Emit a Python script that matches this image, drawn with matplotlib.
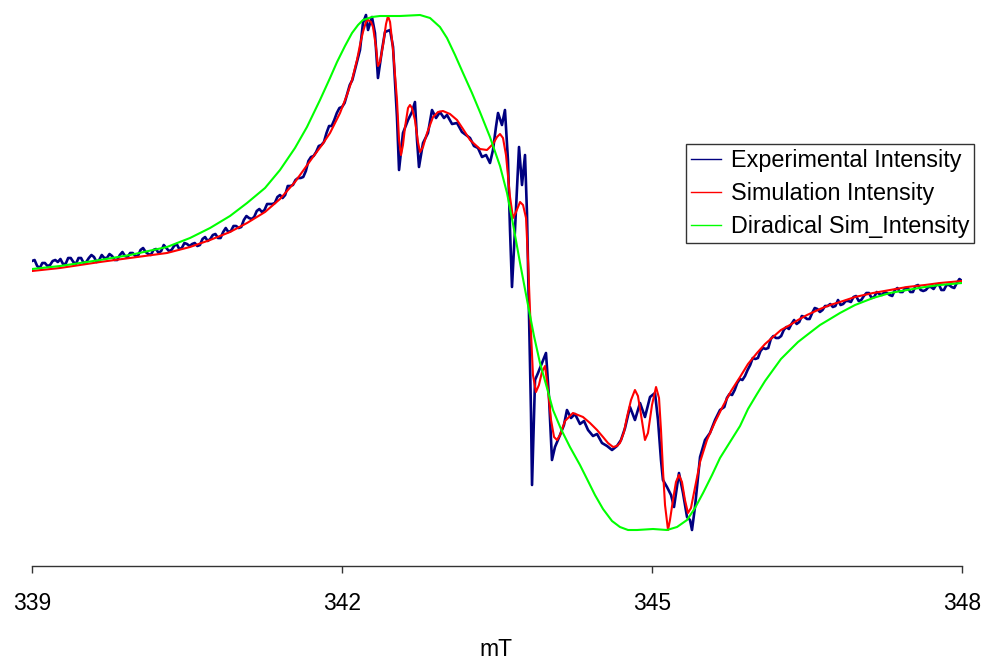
import matplotlib
matplotlib.use("Agg")
import matplotlib.pyplot as plt
from matplotlib.lines import Line2D

plt.rcParams["font.family"] = ["Liberation Sans", "DejaVu Sans"]

# ---- Experimental EPR derivative spectrum (field in mT, intensity in arb. units)
exp_field = [
    339.000, 339.025, 339.050, 339.075, 339.100, 339.125, 339.150, 339.175, 339.200, 339.225,
    339.250, 339.275, 339.300, 339.325, 339.350, 339.375, 339.400, 339.425, 339.450, 339.475,
    339.500, 339.525, 339.550, 339.575, 339.600, 339.625, 339.650, 339.675, 339.700, 339.725,
    339.750, 339.775, 339.800, 339.825, 339.850, 339.875, 339.900, 339.925, 339.950, 339.975,
    340.000, 340.025, 340.050, 340.075, 340.100, 340.125, 340.150, 340.175, 340.200, 340.225,
    340.250, 340.275, 340.300, 340.325, 340.350, 340.375, 340.400, 340.425, 340.450, 340.475,
    340.500, 340.525, 340.550, 340.575, 340.600, 340.625, 340.650, 340.675, 340.700, 340.725,
    340.750, 340.775, 340.800, 340.825, 340.850, 340.875, 340.900, 340.925, 340.950, 340.975,
    341.000, 341.025, 341.050, 341.075, 341.100, 341.125, 341.150, 341.175, 341.200, 341.225,
    341.250, 341.275, 341.300, 341.325, 341.350, 341.375, 341.400, 341.425, 341.450, 341.475,
    341.500, 341.525, 341.550, 341.575, 341.600, 341.625, 341.650, 341.675, 341.700, 341.725,
    341.750, 341.775, 341.800, 341.825, 341.850, 341.875, 341.900, 341.925, 341.950, 341.975,
    342.000, 342.025, 342.050, 342.075, 342.100, 342.125, 342.150,
    342.174, 342.203, 342.232, 342.252, 342.290, 342.319, 342.348, 342.387, 342.416,
    342.465, 342.494, 342.532, 342.552, 342.590, 342.639, 342.677, 342.706, 342.726,
    342.745, 342.784, 342.832, 342.871, 342.910, 342.948, 342.987, 343.016, 343.065,
    343.113, 343.161, 343.200, 343.239, 343.277, 343.316, 343.355, 343.394, 343.432,
    343.461, 343.490, 343.510, 343.548, 343.577, 343.606, 343.626, 343.645, 343.674,
    343.713, 343.742, 343.771, 343.790, 343.810, 343.829, 343.839, 343.868, 343.897,
    343.935, 343.974, 344.003, 344.032, 344.061, 344.110, 344.148, 344.177, 344.216,
    344.255, 344.303, 344.342, 344.381, 344.429, 344.468, 344.516, 344.565, 344.613,
    344.661, 344.700, 344.739, 344.787, 344.835, 344.884, 344.932, 344.981, 345.029,
    345.058, 345.087, 345.106, 345.145, 345.184, 345.213, 345.261, 345.300, 345.339,
    345.368, 345.387, 345.416, 345.465, 345.513, 345.561, 345.610, 345.658,
    345.700, 345.725, 345.750, 345.775, 345.800, 345.825, 345.850, 345.875, 345.900, 345.925,
    345.950, 345.975, 346.000, 346.025, 346.050, 346.075, 346.100, 346.125, 346.150, 346.175,
    346.200, 346.225, 346.250, 346.275, 346.300, 346.325, 346.350, 346.375, 346.400, 346.425,
    346.450, 346.475, 346.500, 346.525, 346.550, 346.575, 346.600, 346.625, 346.650, 346.675,
    346.700, 346.725, 346.750, 346.775, 346.800, 346.825, 346.850, 346.875, 346.900, 346.925,
    346.950, 346.975, 347.000, 347.025, 347.050, 347.075, 347.100, 347.125, 347.150, 347.175,
    347.200, 347.225, 347.250, 347.275, 347.300, 347.325, 347.350, 347.375, 347.400, 347.425,
    347.450, 347.475, 347.500, 347.525, 347.550, 347.575, 347.600, 347.625, 347.650, 347.675,
    347.700, 347.725, 347.750, 347.775, 347.800, 347.825, 347.850, 347.875, 347.900, 347.925,
    347.950, 347.975, 348.000,
]
exp_intensity = [
    24, 25, 19, 17, 22, 22, 19, 20, 24, 25, 23, 26, 21, 21, 27, 27, 23, 21, 27, 27,
    22, 23, 27, 30, 28, 23, 25, 30, 27, 27, 31, 29, 25, 25, 30, 33, 29, 28, 32, 32,
    29, 29, 35, 37, 33, 31, 30, 35, 36, 32, 34, 40, 37, 34, 35, 39, 41, 36, 37, 42,
    41, 39, 41, 42, 39, 40, 46, 48, 44, 46, 50, 51, 47, 47, 53, 57, 53, 54, 59, 59,
    57, 58, 65, 69, 67, 66, 68, 74, 76, 73, 75, 81, 81, 81, 82, 88, 90, 87, 90, 99,
    99, 100, 105, 107, 107, 108, 114, 124, 128, 129, 133, 139, 140, 143, 152, 159, 159, 165, 172, 177,
    178, 182, 191, 200, 205, 215, 225,
    235, 262, 270, 255, 268, 252, 207, 235, 253,
    255, 238, 168, 115, 152, 165, 173, 183, 145,
    118, 142, 152, 175, 167, 173, 167, 170, 161,
    162, 153, 150, 147, 139, 137, 128, 130, 122,
    135, 158, 172, 160, 175, 125, 55, -2, 55,
    138, 100, 130, 72, -28, -128, -200, -95, -88,
    -78, -68, -112, -175, -162, -150, -140, -125, -133,
    -129, -139, -136, -145, -151, -149, -158, -161, -165,
    -161, -155, -143, -122, -135, -118, -132, -112, -108,
    -135, -175, -195, -202, -210, -222, -188, -208, -232,
    -235, -245, -222, -172, -155, -148, -135, -125,
    -122, -113, -109, -110, -105, -98, -94, -95, -91, -85,
    -80, -73, -74, -73, -66, -63, -64, -63, -54, -51,
    -53, -53, -51, -45, -42, -44, -39, -35, -39, -37,
    -31, -32, -34, -34, -28, -23, -24, -27, -25, -21,
    -21, -19, -22, -21, -15, -20, -19, -16, -16, -17,
    -12, -11, -16, -15, -11, -8, -8, -13, -12, -7,
    -9, -10, -7, -8, -10, -11, -5, -3, -7, -7,
    -3, -3, -7, -7, -1, 0, -5, -6, -5, -2,
    -2, -4, 0, 1, -5, -5, 0, 0, -2, -3,
    2, 6, 4,
]

# ---- Simulated spectrum
sim_field = [
    339.000, 339.271, 339.658, 339.948, 340.306, 340.529, 340.723, 340.916, 341.081,
    341.255, 341.400, 341.545, 341.719, 341.806, 341.884, 341.981, 342.048, 342.097,
    342.145, 342.174, 342.203, 342.232, 342.252, 342.281, 342.300, 342.329, 342.348,
    342.368, 342.397, 342.426, 342.445, 342.465, 342.494, 342.513, 342.532, 342.552,
    342.571, 342.590, 342.610, 342.639, 342.658, 342.677, 342.706, 342.735, 342.755,
    342.784, 342.823, 342.881, 342.929, 342.977, 343.045, 343.113, 343.171, 343.239,
    343.335, 343.403, 343.461, 343.500, 343.529, 343.558, 343.587, 343.626, 343.655,
    343.684, 343.723, 343.752, 343.781, 343.800, 343.819, 343.848, 343.877, 343.906,
    343.935, 343.965, 343.994, 344.023, 344.052, 344.081, 344.110, 344.158, 344.235,
    344.332, 344.400, 344.468, 344.526, 344.574, 344.623, 344.661, 344.690, 344.729,
    344.758, 344.797, 344.835, 344.864, 344.894, 344.932, 344.961, 345.000, 345.039,
    345.068, 345.087, 345.106, 345.126, 345.155, 345.174, 345.203, 345.232, 345.261,
    345.290, 345.319, 345.348, 345.377, 345.406, 345.465, 345.532, 345.610, 345.687,
    345.765, 345.852, 345.929, 346.016, 346.094, 346.171, 346.248, 346.335, 346.413,
    346.500, 346.626, 346.723, 346.819, 346.965, 347.139, 347.303, 347.468, 347.642,
    347.787, 348.000,
]
sim_intensity = [
    14, 17, 23, 27, 32, 38, 45, 53, 62,
    73, 86, 103, 128, 140, 152, 172, 190, 205,
    225, 240, 253, 263, 265, 263, 258, 238, 219,
    223, 240, 261, 269, 263, 235, 210, 185, 145,
    130, 140, 158, 177, 180, 177, 165, 143, 133,
    138, 152, 168, 173, 174, 171, 165, 156, 145,
    136, 135, 141, 148, 151, 147, 130, 88, 67,
    73, 83, 80, 67, 25, -25, -90, -107, -100,
    -87, -81, -105, -135, -152, -155, -150, -136, -128,
    -132, -138, -145, -152, -158, -162, -161, -158, -147,
    -132, -115, -105, -111, -130, -155, -148, -120, -102,
    -113, -145, -185, -220, -245, -235, -215, -197, -190,
    -197, -215, -228, -223, -208, -177, -155, -137, -121,
    -106, -92, -79, -68, -59, -52, -45, -40, -35,
    -30, -24, -20, -17, -12, -8, -5, -2, 0,
    2, 4,
]

# ---- Diradical simulation
dir_field = [
    339.000, 339.271, 339.658, 339.948, 340.306, 340.529, 340.723, 340.916, 341.081,
    341.255, 341.400, 341.545, 341.661, 341.787, 341.884, 341.952, 342.029, 342.097,
    342.155, 342.203, 342.290, 342.368, 342.561, 342.755, 342.852, 342.948, 343.016,
    343.094, 343.171, 343.258, 343.335, 343.432, 343.529, 343.597, 343.655, 343.723,
    343.800, 343.858, 343.916, 343.984, 344.042, 344.119, 344.206, 344.303, 344.371,
    344.448, 344.526, 344.613, 344.690, 344.768, 344.855, 345.010, 345.145, 345.242,
    345.339, 345.416, 345.494, 345.581, 345.658, 345.755, 345.852, 345.929, 346.016,
    346.094, 346.171, 346.248, 346.335, 346.413, 346.500, 346.626, 346.723, 346.819,
    346.965, 347.139, 347.303, 347.468, 347.642, 347.787, 348.000,
]
dir_intensity = [
    16, 19, 25, 30, 38, 47, 57, 69, 82,
    97, 115, 137, 158, 185, 207, 223, 239, 252,
    260, 265, 268, 269, 269, 270, 267, 258, 247,
    230, 212, 192, 173, 148, 119, 92, 61, 22,
    -20, -51, -78, -103, -125, -144, -162, -180, -194,
    -210, -224, -236, -242, -245, -245, -244, -245, -242,
    -235, -223, -208, -190, -173, -157, -141, -124, -109,
    -96, -85, -74, -65, -57, -50, -40, -34, -28,
    -20, -13, -8, -5, -2, 0, 2,
]

series_labels = ["Experimental Intensity", "Simulation Intensity", "Diradical Sim_Intensity"]
series_colors = ["#000080", "#FF0000", "#00FF00"]

W, H = 985, 661
fig = plt.figure(figsize=(W / 100, H / 100), dpi=100)
ax = fig.add_axes([32 / W, (H - 566) / H, 930 / W, 566 / H])

ax.plot(exp_field, exp_intensity, color=series_colors[0], lw=1.9, zorder=2)
ax.plot(sim_field, sim_intensity, color=series_colors[1], lw=1.5, zorder=3)
ax.plot(dir_field, dir_intensity, color=series_colors[2], lw=1.5, zorder=4)

ax.set_xlim(339, 348)
ax.set_ylim(-281, 285)
ax.set_xticks([339, 342, 345, 348])
ax.set_yticks([])
for side in ("left", "right", "top"):
    ax.spines[side].set_visible(False)
ax.spines["bottom"].set_color("#333333")
ax.spines["bottom"].set_linewidth(1.0)
ax.tick_params(axis="x", direction="out", length=5, width=1.0, color="#333333",
               pad=14, labelsize=16.5)

fig.text(496 / W, 5 / H, "mT", ha="center", va="baseline", fontsize=16.5)

handles = [Line2D([], [], color=c, lw=1.0) for c in series_colors]
leg = fig.legend(handles, series_labels, loc="upper left",
                 bbox_to_anchor=(686 / W, 1 - 144 / H), bbox_transform=fig.transFigure,
                 borderaxespad=0, fontsize=16.8, frameon=True, fancybox=False,
                 edgecolor="black", handlelength=1.3, handletextpad=0.4,
                 labelspacing=0.42, borderpad=0.22)
leg.get_frame().set_linewidth(1.0)

fig.savefig("out.png", dpi=100)
